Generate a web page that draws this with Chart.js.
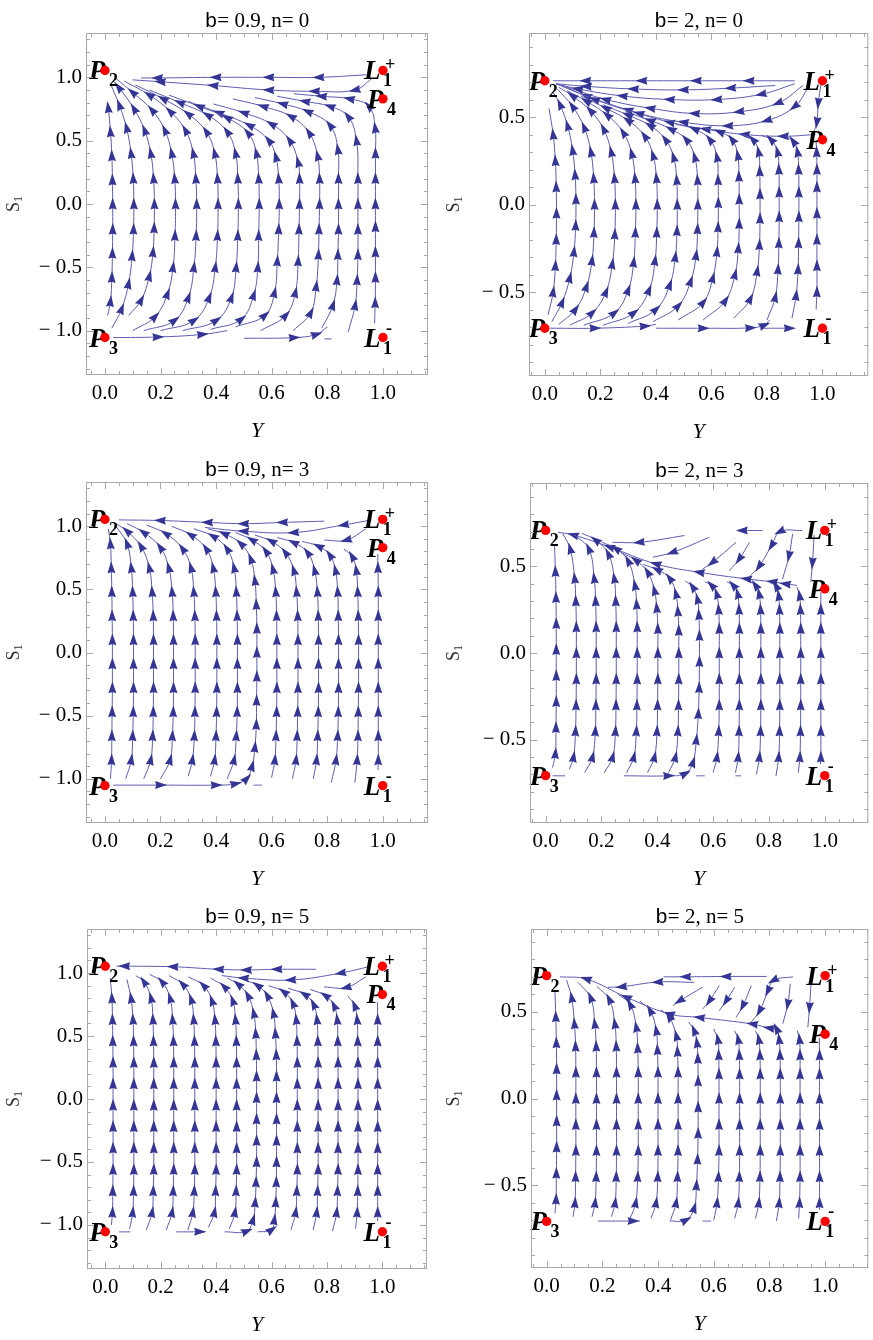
<!DOCTYPE html>
<html><head><meta charset="utf-8">
<script src="https://cdn.jsdelivr.net/npm/chart.js@4.4.0/dist/chart.umd.min.js"></script>
<style>
html,body{margin:0;padding:0;background:#fff;}
body{width:873px;height:1340px;position:relative;overflow:hidden;font-family:"Liberation Serif";}
.pn{position:absolute;}
canvas{display:block;}
.fp{position:absolute;left:-999px;top:0;}
</style></head><body>
<div class="fp"><span style="font-family:'Liberation Serif'">0.5 b= n</span><span style="font-family:'Liberation Serif';font-style:italic;font-weight:bold">P L</span><span style="font-family:'Liberation Serif';font-weight:bold">1234+-</span><span style="font-family:'Liberation Mono'">b</span><span style="font-family:'Liberation Serif';font-style:italic">Y</span></div>
<script>
// ---------- tick values / labels ----------
const xTickValues = [0, 0.2, 0.4, 0.6, 0.8, 1.0];
const yTickValuesWide = [-1, -0.5, 0, 0.5, 1];
const yTickValuesNarrow = [-0.5, 0, 0.5];
const xMinorTicks = [-0.05,0,0.05,0.1,0.15,0.2,0.25,0.3,0.35,0.4,0.45,0.5,0.55,0.6,0.65,0.7,0.75,0.8,0.85,0.9,0.95,1,1.05,1.1,1.15];
const yMinorWide = [-1.3,-1.2,-1.1,-1,-0.9,-0.8,-0.7,-0.6,-0.5,-0.4,-0.3,-0.2,-0.1,0,0.1,0.2,0.3,0.4,0.5,0.6,0.7,0.8,0.9,1,1.1,1.2,1.3];
const yMinorNarrow = [-0.9,-0.8,-0.7,-0.6,-0.5,-0.4,-0.3,-0.2,-0.1,0,0.1,0.2,0.3,0.4,0.5,0.6,0.7,0.8,0.9];

// ---------- panel titles ----------
const titleB = ['0.9','2','0.9','2','0.9','2'];
const titleN = ['0','0','3','3','5','5'];

// ---------- critical points ----------
const markLetters = ['P','P','L','P','L'];
const markSubs = ['2','3','1','4','1'];
const markSups = ['','','+','','-'];
const marksB09 = [[0,1.054],[0,-1.054],[1,1.054],[1,0.83],[1,-1.054]];
const marksB2 = [[0,0.707],[0,-0.707],[1,0.707],[1,0.37],[1,-0.707]];

// ---------- streamlines (Y, S1 pairs) ----------
const p1Lines = [
 [0.01,-0.88, 0.02,-0.77, 0.025,-0.58, 0.027,-0.39, 0.028,-0.2, 0.028,0, 0.027,0.19, 0.025,0.38, 0.02,0.57, 0.012,0.76, 0.008,0.8],
 [0.025,-0.98, 0.06,-0.83, 0.085,-0.63, 0.098,-0.41, 0.103,-0.2, 0.104,0, 0.102,0.2, 0.094,0.4, 0.078,0.6, 0.052,0.78, 0.02,0.95],
 [0.085,-0.88, 0.13,-0.76, 0.16,-0.57, 0.173,-0.38, 0.177,-0.19, 0.178,0, 0.175,0.2, 0.165,0.4, 0.143,0.58, 0.105,0.75, 0.05,0.92, 0.03,0.97],
 [0.1,-1.0, 0.18,-0.89, 0.225,-0.71, 0.245,-0.5, 0.252,-0.25, 0.254,0, 0.251,0.2, 0.24,0.4, 0.216,0.58, 0.17,0.74, 0.1,0.88, 0.04,0.99],
 [0.14,-1.0, 0.25,-0.92, 0.3,-0.74, 0.32,-0.5, 0.328,-0.25, 0.33,0, 0.327,0.2, 0.318,0.4, 0.29,0.58, 0.235,0.73, 0.16,0.86, 0.07,0.97],
 [0.2,-1.0, 0.32,-0.92, 0.375,-0.74, 0.397,-0.5, 0.405,-0.25, 0.407,0, 0.405,0.2, 0.395,0.4, 0.365,0.57, 0.3,0.71, 0.21,0.83, 0.11,0.94],
 [0.28,-1.0, 0.4,-0.92, 0.455,-0.74, 0.472,-0.5, 0.478,-0.25, 0.48,0, 0.478,0.2, 0.47,0.4, 0.44,0.57, 0.37,0.7, 0.27,0.8, 0.16,0.9],
 [0.38,-0.99, 0.49,-0.91, 0.535,-0.72, 0.55,-0.5, 0.553,-0.25, 0.555,0, 0.553,0.2, 0.545,0.4, 0.515,0.56, 0.44,0.68, 0.34,0.77, 0.23,0.86],
 [0.47,-0.97, 0.575,-0.88, 0.61,-0.7, 0.62,-0.45, 0.625,-0.2, 0.627,0, 0.625,0.2, 0.615,0.37, 0.59,0.5, 0.52,0.62, 0.41,0.72, 0.3,0.81],
 [0.56,-1.0, 0.65,-0.88, 0.685,-0.7, 0.695,-0.45, 0.698,-0.2, 0.7,0, 0.7,0.2, 0.695,0.33, 0.665,0.5, 0.6,0.63, 0.5,0.72, 0.39,0.79],
 [0.677,-1.0, 0.74,-0.86, 0.76,-0.65, 0.768,-0.4, 0.77,-0.2, 0.772,0, 0.772,0.2, 0.765,0.38, 0.735,0.56, 0.67,0.69, 0.57,0.77, 0.46,0.83],
 [0.78,-0.98, 0.82,-0.8, 0.835,-0.6, 0.838,-0.4, 0.84,-0.2, 0.84,0, 0.84,0.2, 0.838,0.43, 0.81,0.62, 0.73,0.73, 0.64,0.79, 0.54,0.84],
 [0.875,-1.01, 0.9,-0.8, 0.907,-0.6, 0.91,-0.4, 0.91,-0.2, 0.91,0, 0.91,0.2, 0.905,0.5, 0.875,0.69, 0.81,0.77, 0.72,0.81, 0.62,0.85],
 [0.97,-0.94, 0.972,-0.78, 0.973,-0.58, 0.973,-0.38, 0.973,-0.18, 0.973,0, 0.973,0.2, 0.973,0.4, 0.972,0.6, 0.95,0.77, 0.88,0.83, 0.78,0.85, 0.68,0.87],
 [0.03,-1.055, 0.19,-1.05, 0.35,-1.03, 0.44,-1.0],
 [0.5,-1.06, 0.68,-1.055, 0.76,-1.03, 0.8,-0.97],
 [0.79,-1.065, 0.815,-1.065],
 [0.94,1.02, 0.77,1.0, 0.59,1.0, 0.4,1.0, 0.19,0.995, 0.13,0.995],
 [0.96,0.99, 0.9,0.9, 0.755,0.89, 0.59,0.9, 0.39,0.935, 0.2,0.965, 0.1,0.98]
];

const p2Lines = [
 [0.012,-0.63, 0.03,-0.5, 0.038,-0.35, 0.041,-0.2, 0.042,-0.05, 0.041,0.1, 0.038,0.25, 0.03,0.4, 0.015,0.55],
 [0.025,-0.67, 0.062,-0.56, 0.09,-0.42, 0.105,-0.27, 0.111,-0.12, 0.112,0.03, 0.109,0.17, 0.1,0.31, 0.082,0.45, 0.055,0.57, 0.03,0.64],
 [0.05,-0.685, 0.11,-0.6, 0.15,-0.47, 0.17,-0.32, 0.177,-0.16, 0.179,0, 0.176,0.15, 0.166,0.3, 0.142,0.44, 0.1,0.56, 0.045,0.66],
 [0.09,-0.69, 0.17,-0.62, 0.22,-0.5, 0.243,-0.34, 0.252,-0.17, 0.254,0, 0.251,0.15, 0.239,0.3, 0.212,0.43, 0.165,0.535, 0.1,0.62, 0.05,0.67],
 [0.14,-0.69, 0.25,-0.62, 0.3,-0.49, 0.32,-0.33, 0.326,-0.16, 0.328,0, 0.325,0.15, 0.313,0.29, 0.283,0.41, 0.225,0.51, 0.15,0.59, 0.08,0.65],
 [0.21,-0.69, 0.32,-0.62, 0.375,-0.49, 0.397,-0.32, 0.403,-0.16, 0.405,0, 0.402,0.15, 0.39,0.28, 0.36,0.39, 0.3,0.48, 0.22,0.55, 0.13,0.62],
 [0.3,-0.68, 0.4,-0.6, 0.45,-0.46, 0.47,-0.3, 0.476,-0.15, 0.477,0, 0.475,0.14, 0.464,0.27, 0.435,0.37, 0.38,0.45, 0.3,0.51, 0.21,0.57],
 [0.39,-0.67, 0.48,-0.58, 0.525,-0.44, 0.545,-0.29, 0.55,-0.14, 0.551,0, 0.55,0.14, 0.54,0.27, 0.51,0.37, 0.455,0.43, 0.38,0.48, 0.29,0.53],
 [0.48,-0.66, 0.57,-0.56, 0.605,-0.42, 0.62,-0.27, 0.624,-0.13, 0.625,0.01, 0.624,0.14, 0.62,0.27, 0.595,0.37, 0.54,0.43, 0.47,0.46],
 [0.57,-0.66, 0.65,-0.55, 0.685,-0.4, 0.697,-0.25, 0.7,-0.11, 0.7,0.03, 0.699,0.16, 0.695,0.28, 0.675,0.37, 0.63,0.415, 0.57,0.44],
 [0.68,-0.65, 0.74,-0.54, 0.765,-0.38, 0.773,-0.23, 0.775,-0.08, 0.775,0.06, 0.774,0.19, 0.77,0.3, 0.75,0.37, 0.71,0.4],
 [0.8,-0.66, 0.83,-0.53, 0.84,-0.37, 0.843,-0.22, 0.844,-0.07, 0.844,0.07, 0.843,0.2, 0.838,0.3, 0.815,0.37, 0.78,0.395],
 [0.89,-0.65, 0.905,-0.52, 0.912,-0.37, 0.914,-0.22, 0.915,-0.07, 0.915,0.07, 0.914,0.2, 0.91,0.3, 0.895,0.36, 0.87,0.39],
 [0.977,-0.6, 0.98,-0.5, 0.98,-0.35, 0.98,-0.2, 0.98,-0.05, 0.98,0.1, 0.98,0.2, 0.979,0.3, 0.977,0.36],
 [0.9,0.707, 0.736,0.707, 0.546,0.707, 0.35,0.707, 0.148,0.707, 0.03,0.707],
 [0.83,0.68, 0.67,0.665, 0.5,0.655, 0.32,0.66, 0.15,0.675, 0.04,0.69],
 [0.9,0.69, 0.78,0.63, 0.62,0.6, 0.45,0.6, 0.28,0.62, 0.12,0.66, 0.04,0.69],
 [0.93,0.68, 0.84,0.58, 0.7,0.53, 0.54,0.52, 0.38,0.55, 0.22,0.6, 0.08,0.67],
 [0.95,0.67, 0.9,0.56, 0.8,0.48, 0.66,0.45, 0.5,0.47, 0.34,0.52, 0.18,0.6, 0.06,0.68],
 [0.995,0.69, 0.985,0.58, 0.98,0.47, 0.97,0.42],
 [0.975,0.4, 0.86,0.39, 0.72,0.4, 0.58,0.43, 0.45,0.47, 0.3,0.54, 0.15,0.62, 0.04,0.69],
 [0.02,-0.707, 0.18,-0.707, 0.36,-0.695, 0.4,-0.685],
 [0.4,-0.707, 0.57,-0.707, 0.74,-0.705, 0.79,-0.69, 0.81,-0.66],
 [0.78,-0.707, 0.88,-0.707, 0.9,-0.707]
];

const p3Lines = [
 [0.02,-1.0, 0.024,-0.85, 0.025,-0.66, 0.026,-0.47, 0.027,-0.28, 0.027,-0.09, 0.027,0.1, 0.026,0.29, 0.025,0.48, 0.023,0.67, 0.02,0.86, 0.012,0.98],
 [0.075,-1.0, 0.095,-0.85, 0.1,-0.66, 0.102,-0.47, 0.103,-0.28, 0.103,-0.09, 0.103,0.1, 0.102,0.29, 0.1,0.48, 0.095,0.67, 0.08,0.86, 0.04,1.0],
 [0.14,-1.0, 0.165,-0.85, 0.172,-0.66, 0.174,-0.47, 0.175,-0.28, 0.175,-0.09, 0.175,0.1, 0.174,0.29, 0.17,0.48, 0.16,0.67, 0.13,0.84, 0.08,0.96, 0.04,1.02],
 [0.2,-1.0, 0.235,-0.85, 0.243,-0.66, 0.246,-0.47, 0.247,-0.28, 0.247,-0.09, 0.247,0.1, 0.246,0.29, 0.242,0.48, 0.23,0.67, 0.2,0.83, 0.14,0.95, 0.08,1.02],
 [0.3,-0.98, 0.315,-0.85, 0.322,-0.66, 0.324,-0.47, 0.325,-0.28, 0.325,-0.09, 0.325,0.1, 0.324,0.29, 0.32,0.48, 0.31,0.67, 0.28,0.82, 0.22,0.94, 0.15,1.01],
 [0.38,-0.98, 0.395,-0.85, 0.4,-0.66, 0.402,-0.47, 0.403,-0.28, 0.403,-0.09, 0.403,0.1, 0.402,0.29, 0.399,0.48, 0.39,0.67, 0.365,0.82, 0.31,0.93, 0.24,1.0],
 [0.44,-1.0, 0.465,-0.85, 0.473,-0.66, 0.476,-0.47, 0.477,-0.28, 0.477,-0.09, 0.477,0.1, 0.476,0.29, 0.473,0.48, 0.465,0.67, 0.44,0.82, 0.39,0.92, 0.32,0.98],
 [0.03,-1.05, 0.2,-1.05, 0.4,-1.05, 0.47,-1.04, 0.51,-1.0, 0.53,-0.9, 0.54,-0.75, 0.545,-0.57, 0.546,-0.38, 0.547,-0.19, 0.547,0, 0.547,0.19, 0.545,0.38, 0.54,0.57, 0.525,0.74, 0.49,0.86, 0.43,0.94, 0.37,0.98],
 [0.6,-0.99, 0.612,-0.85, 0.616,-0.66, 0.618,-0.47, 0.619,-0.28, 0.619,-0.09, 0.619,0.1, 0.618,0.29, 0.615,0.48, 0.605,0.66, 0.58,0.8, 0.53,0.89, 0.47,0.95],
 [0.675,-1.0, 0.688,-0.85, 0.692,-0.66, 0.694,-0.47, 0.695,-0.28, 0.695,-0.09, 0.695,0.1, 0.694,0.29, 0.69,0.48, 0.68,0.65, 0.65,0.79, 0.6,0.88, 0.54,0.93],
 [0.75,-1.0, 0.762,-0.85, 0.766,-0.66, 0.768,-0.47, 0.769,-0.28, 0.769,-0.09, 0.769,0.1, 0.768,0.29, 0.765,0.48, 0.755,0.65, 0.73,0.79, 0.68,0.87, 0.62,0.91],
 [0.815,-1.03, 0.832,-0.85, 0.838,-0.66, 0.84,-0.47, 0.841,-0.28, 0.841,-0.09, 0.841,0.1, 0.84,0.29, 0.838,0.48, 0.83,0.65, 0.81,0.77, 0.77,0.84, 0.71,0.88],
 [0.9,-1.03, 0.908,-0.85, 0.911,-0.66, 0.912,-0.47, 0.913,-0.28, 0.913,-0.09, 0.913,0.1, 0.912,0.29, 0.91,0.48, 0.905,0.65, 0.89,0.76, 0.86,0.82],
 [0.983,-0.93, 0.984,-0.85, 0.984,-0.66, 0.984,-0.47, 0.984,-0.28, 0.984,-0.09, 0.984,0.1, 0.984,0.29, 0.984,0.48, 0.983,0.67, 0.982,0.78],
 [0.535,-1.05, 0.565,-1.05],
 [0.79,1.04, 0.64,1.03, 0.5,1.02, 0.37,1.03, 0.2,1.045, 0.05,1.05],
 [0.96,1.05, 0.86,1.01, 0.68,0.95, 0.5,0.96, 0.36,0.99],
 [0.94,0.98, 0.87,0.89, 0.79,0.89]
];

const p4Lines = [
 [0.025,-0.66, 0.035,-0.58, 0.037,-0.43, 0.038,-0.28, 0.038,-0.13, 0.038,0.02, 0.038,0.17, 0.037,0.32, 0.035,0.47, 0.032,0.62],
 [0.085,-0.67, 0.1,-0.6, 0.107,-0.45, 0.109,-0.3, 0.11,-0.15, 0.11,0, 0.11,0.15, 0.108,0.3, 0.104,0.43, 0.088,0.6, 0.062,0.687],
 [0.14,-0.69, 0.168,-0.6, 0.178,-0.45, 0.18,-0.3, 0.181,-0.15, 0.181,0, 0.181,0.15, 0.179,0.3, 0.174,0.43, 0.155,0.6, 0.105,0.68],
 [0.21,-0.69, 0.24,-0.6, 0.25,-0.45, 0.252,-0.3, 0.253,-0.15, 0.253,0, 0.253,0.15, 0.251,0.3, 0.246,0.43, 0.225,0.57, 0.18,0.65, 0.13,0.69],
 [0.29,-0.69, 0.316,-0.6, 0.325,-0.45, 0.327,-0.3, 0.328,-0.15, 0.328,0, 0.328,0.15, 0.326,0.28, 0.32,0.39, 0.296,0.53, 0.253,0.6, 0.2,0.64],
 [0.365,-0.69, 0.39,-0.6, 0.399,-0.45, 0.401,-0.3, 0.402,-0.15, 0.402,0, 0.402,0.14, 0.398,0.26, 0.39,0.36, 0.366,0.465, 0.324,0.533, 0.27,0.58],
 [0.44,-0.69, 0.465,-0.6, 0.474,-0.45, 0.476,-0.3, 0.477,-0.15, 0.477,0, 0.477,0.13, 0.474,0.24, 0.467,0.34, 0.445,0.43, 0.4,0.48, 0.35,0.51],
 [0.28,-0.708, 0.44,-0.708, 0.5,-0.695, 0.528,-0.63, 0.54,-0.5, 0.547,-0.35, 0.55,-0.2, 0.551,-0.05, 0.551,0.1, 0.549,0.22, 0.544,0.31, 0.527,0.38, 0.5,0.415],
 [0.6,-0.69, 0.614,-0.6, 0.62,-0.45, 0.622,-0.3, 0.622,-0.15, 0.622,0, 0.622,0.14, 0.62,0.25, 0.613,0.34, 0.595,0.39, 0.57,0.41],
 [0.68,-0.69, 0.69,-0.6, 0.693,-0.45, 0.694,-0.3, 0.694,-0.15, 0.694,0, 0.694,0.14, 0.693,0.25, 0.688,0.34, 0.672,0.39, 0.65,0.41],
 [0.755,-0.7, 0.766,-0.6, 0.77,-0.45, 0.771,-0.3, 0.771,-0.15, 0.771,0, 0.771,0.14, 0.77,0.25, 0.765,0.34, 0.752,0.39, 0.735,0.41],
 [0.825,-0.71, 0.835,-0.6, 0.838,-0.45, 0.839,-0.3, 0.839,-0.15, 0.839,0, 0.839,0.14, 0.838,0.25, 0.835,0.33, 0.826,0.385, 0.81,0.405],
 [0.905,-0.69, 0.911,-0.6, 0.913,-0.45, 0.914,-0.3, 0.914,-0.15, 0.914,0, 0.914,0.14, 0.913,0.25, 0.91,0.33, 0.9,0.38],
 [0.985,-0.64, 0.986,-0.6, 0.986,-0.45, 0.986,-0.3, 0.986,-0.15, 0.986,0, 0.986,0.14, 0.986,0.25, 0.986,0.35],
 [0.025,-0.708, 0.07,-0.708],
 [0.54,-0.708, 0.57,-0.708],
 [0.68,-0.708, 0.7,-0.708],
 [0.9,0.39, 0.86,0.398, 0.813,0.41, 0.72,0.427, 0.551,0.465, 0.396,0.513, 0.229,0.611, 0.1,0.68, 0.044,0.696],
 [0.92,0.706, 0.84,0.7, 0.81,0.62, 0.765,0.5, 0.73,0.44],
 [0.885,0.687, 0.872,0.56, 0.849,0.427],
 [0.962,0.68, 0.956,0.52, 0.95,0.41],
 [0.777,0.706, 0.705,0.706, 0.69,0.706],
 [0.586,0.667, 0.455,0.58, 0.384,0.552],
 [0.497,0.677, 0.336,0.638, 0.24,0.638],
 [0.682,0.638, 0.598,0.523, 0.563,0.485],
 [0.73,0.638, 0.694,0.542, 0.658,0.475]
];

const p5Lines = [
 [0.022,-1.0, 0.026,-0.9, 0.027,-0.73, 0.028,-0.56, 0.028,-0.39, 0.028,-0.22, 0.028,-0.05, 0.028,0.12, 0.028,0.29, 0.027,0.46, 0.026,0.63, 0.024,0.8, 0.018,0.96],
 [0.088,-1.03, 0.099,-0.9, 0.102,-0.73, 0.103,-0.56, 0.103,-0.39, 0.103,-0.22, 0.103,-0.05, 0.103,0.12, 0.103,0.29, 0.102,0.46, 0.1,0.63, 0.093,0.8, 0.078,0.95],
 [0.148,-1.04, 0.169,-0.9, 0.173,-0.73, 0.175,-0.56, 0.175,-0.39, 0.175,-0.22, 0.175,-0.05, 0.175,0.12, 0.175,0.29, 0.174,0.46, 0.172,0.63, 0.165,0.8, 0.14,0.93, 0.11,0.98],
 [0.22,-1.04, 0.241,-0.9, 0.245,-0.73, 0.247,-0.56, 0.247,-0.39, 0.247,-0.22, 0.247,-0.05, 0.247,0.12, 0.247,0.29, 0.246,0.46, 0.243,0.63, 0.234,0.8, 0.205,0.93, 0.16,0.99],
 [0.298,-1.04, 0.316,-0.9, 0.321,-0.73, 0.323,-0.56, 0.323,-0.39, 0.323,-0.22, 0.323,-0.05, 0.323,0.12, 0.323,0.29, 0.322,0.46, 0.319,0.63, 0.31,0.79, 0.28,0.91, 0.23,0.98],
 [0.372,-1.02, 0.394,-0.9, 0.398,-0.73, 0.4,-0.56, 0.4,-0.39, 0.4,-0.22, 0.4,-0.05, 0.4,0.12, 0.4,0.29, 0.399,0.46, 0.396,0.63, 0.385,0.78, 0.355,0.9, 0.3,0.97],
 [0.448,-1.03, 0.468,-0.9, 0.472,-0.73, 0.474,-0.56, 0.474,-0.39, 0.474,-0.22, 0.474,-0.05, 0.474,0.12, 0.474,0.29, 0.473,0.46, 0.47,0.63, 0.46,0.78, 0.43,0.89, 0.38,0.96],
 [0.43,-1.055, 0.51,-1.05, 0.533,-0.96, 0.541,-0.82, 0.544,-0.66, 0.546,-0.5, 0.546,-0.33, 0.546,-0.16, 0.546,0.01, 0.546,0.18, 0.545,0.35, 0.543,0.52, 0.536,0.68, 0.515,0.82, 0.48,0.91, 0.44,0.96],
 [0.55,-1.055, 0.6,-1.04, 0.61,-0.96, 0.615,-0.82, 0.617,-0.66, 0.618,-0.5, 0.618,-0.33, 0.618,-0.16, 0.618,0.01, 0.618,0.18, 0.617,0.35, 0.614,0.52, 0.607,0.68, 0.585,0.82, 0.55,0.9, 0.51,0.94],
 [0.67,-1.04, 0.687,-0.9, 0.691,-0.73, 0.693,-0.56, 0.693,-0.39, 0.693,-0.22, 0.693,-0.05, 0.693,0.12, 0.693,0.29, 0.692,0.46, 0.689,0.63, 0.677,0.76, 0.645,0.85, 0.59,0.9],
 [0.75,-1.04, 0.763,-0.9, 0.766,-0.73, 0.768,-0.56, 0.768,-0.39, 0.768,-0.22, 0.768,-0.05, 0.768,0.12, 0.768,0.29, 0.767,0.46, 0.764,0.63, 0.752,0.75, 0.72,0.83, 0.66,0.88],
 [0.82,-1.05, 0.835,-0.9, 0.838,-0.73, 0.84,-0.56, 0.84,-0.39, 0.84,-0.22, 0.84,-0.05, 0.84,0.12, 0.84,0.29, 0.839,0.46, 0.837,0.63, 0.826,0.74, 0.795,0.82, 0.74,0.87],
 [0.903,-1.03, 0.909,-0.9, 0.911,-0.73, 0.912,-0.56, 0.912,-0.39, 0.912,-0.22, 0.912,-0.05, 0.912,0.12, 0.912,0.29, 0.911,0.46, 0.909,0.63, 0.9,0.74, 0.875,0.82],
 [0.983,-0.97, 0.983,-0.9, 0.983,-0.73, 0.983,-0.56, 0.983,-0.39, 0.983,-0.22, 0.983,-0.05, 0.983,0.12, 0.983,0.29, 0.983,0.46, 0.983,0.63, 0.982,0.77],
 [0.05,-1.055, 0.09,-1.055],
 [0.256,-1.055, 0.34,-1.055, 0.36,-1.055],
 [0.76,1.03, 0.62,1.03, 0.51,1.025, 0.41,1.03, 0.245,1.05, 0.07,1.055, 0.04,1.055],
 [0.95,1.05, 0.85,1.0, 0.67,0.945, 0.5,0.96, 0.42,0.98],
 [0.94,0.97, 0.87,0.885, 0.79,0.89]
];

const p6Lines = [
 [0.03,-0.66, 0.034,-0.58, 0.035,-0.43, 0.036,-0.28, 0.036,-0.13, 0.036,0.02, 0.036,0.17, 0.035,0.32, 0.033,0.47, 0.03,0.62],
 [0.095,-0.68, 0.102,-0.6, 0.104,-0.45, 0.105,-0.3, 0.105,-0.15, 0.105,0, 0.105,0.15, 0.104,0.3, 0.1,0.43, 0.09,0.58, 0.072,0.68],
 [0.163,-0.68, 0.174,-0.6, 0.178,-0.45, 0.179,-0.3, 0.179,-0.15, 0.179,0, 0.179,0.15, 0.178,0.3, 0.173,0.43, 0.158,0.58, 0.113,0.668],
 [0.233,-0.68, 0.246,-0.6, 0.25,-0.45, 0.251,-0.3, 0.251,-0.15, 0.251,0, 0.251,0.15, 0.25,0.3, 0.245,0.43, 0.225,0.57, 0.18,0.645],
 [0.3,-0.69, 0.32,-0.6, 0.327,-0.45, 0.329,-0.3, 0.329,-0.15, 0.329,0, 0.329,0.15, 0.327,0.29, 0.322,0.41, 0.3,0.54, 0.257,0.6],
 [0.375,-0.69, 0.393,-0.6, 0.399,-0.45, 0.4,-0.3, 0.4,-0.15, 0.4,0, 0.4,0.15, 0.398,0.28, 0.394,0.39, 0.372,0.505, 0.335,0.56],
 [0.445,-0.7, 0.465,-0.6, 0.47,-0.45, 0.472,-0.3, 0.472,-0.15, 0.472,0, 0.472,0.15, 0.47,0.27, 0.466,0.36, 0.44,0.47, 0.41,0.51],
 [0.442,-0.705, 0.5,-0.7, 0.53,-0.63, 0.538,-0.5, 0.542,-0.35, 0.544,-0.2, 0.544,-0.05, 0.544,0.1, 0.543,0.23, 0.54,0.32, 0.53,0.39, 0.51,0.44],
 [0.6,-0.7, 0.612,-0.6, 0.617,-0.45, 0.619,-0.3, 0.619,-0.15, 0.619,0, 0.619,0.14, 0.618,0.25, 0.615,0.34, 0.6,0.4],
 [0.675,-0.69, 0.688,-0.6, 0.692,-0.45, 0.693,-0.3, 0.693,-0.15, 0.693,0, 0.693,0.14, 0.692,0.25, 0.688,0.34, 0.675,0.39],
 [0.75,-0.69, 0.762,-0.6, 0.766,-0.45, 0.767,-0.3, 0.767,-0.15, 0.767,0, 0.767,0.14, 0.766,0.25, 0.762,0.34, 0.75,0.39],
 [0.825,-0.705, 0.835,-0.6, 0.838,-0.45, 0.839,-0.3, 0.839,-0.15, 0.839,0, 0.839,0.14, 0.838,0.25, 0.835,0.34, 0.826,0.4, 0.81,0.42],
 [0.905,-0.69, 0.908,-0.6, 0.91,-0.45, 0.91,-0.3, 0.91,-0.15, 0.91,0, 0.91,0.14, 0.91,0.25, 0.908,0.34, 0.9,0.39],
 [0.98,-0.64, 0.98,-0.6, 0.98,-0.45, 0.98,-0.3, 0.98,-0.15, 0.98,0, 0.98,0.14, 0.98,0.25, 0.979,0.35],
 [0.185,-0.705, 0.31,-0.705, 0.335,-0.705],
 [0.56,-0.705, 0.59,-0.705],
 [0.836,0.4, 0.8,0.405, 0.74,0.428, 0.55,0.466, 0.442,0.486, 0.287,0.582, 0.143,0.687, 0.048,0.7],
 [0.79,0.702, 0.645,0.702, 0.5,0.7, 0.42,0.7],
 [0.53,0.668, 0.4,0.67, 0.27,0.643, 0.22,0.64],
 [0.885,0.7, 0.815,0.68, 0.795,0.62, 0.765,0.505, 0.73,0.43],
 [0.875,0.66, 0.866,0.543, 0.848,0.43],
 [0.95,0.68, 0.944,0.524, 0.938,0.41],
 [0.735,0.65, 0.705,0.534, 0.68,0.466],
 [0.675,0.64, 0.645,0.562, 0.62,0.505],
 [0.62,0.65, 0.585,0.562, 0.56,0.514],
 [0.56,0.64, 0.478,0.562, 0.454,0.534]
];

// ---------- layout (pixel geometry, styles only) ----------
const LINE_COLOR = '#5c5cb0';
const ARROW_COLOR = '#353595';
const FRAME_COLOR = '#a8a8a8';
const SERIF = '"Liberation Serif", "Times New Roman", serif';
const MONO = '"Liberation Mono", "Courier New", monospace';
const panels = [
 {lines:p1Lines, marks:marksB09, yTicks:yTickValuesWide, yMinor:yMinorWide, left:0,   top:0,   w:440, h:445, L:86, T:33, R:12, B:70, xr:[-0.068,1.162], yr:[-1.35,1.35]},
 {lines:p2Lines, marks:marksB2,  yTicks:yTickValuesNarrow, yMinor:yMinorNarrow, left:440, top:0,   w:433, h:445, L:89, T:33, R:1,  B:69, xr:[-0.057,1.165], yr:[-0.98,0.98]},
 {lines:p3Lines, marks:marksB09, yTicks:yTickValuesWide, yMinor:yMinorWide, left:0,   top:445, w:440, h:445, L:86, T:37, R:12, B:67, xr:[-0.068,1.163], yr:[-1.35,1.35]},
 {lines:p4Lines, marks:marksB2,  yTicks:yTickValuesNarrow, yMinor:yMinorNarrow, left:440, top:445, w:433, h:445, L:90, T:38, R:4,  B:67, xr:[-0.056,1.156], yr:[-0.98,0.98]},
 {lines:p5Lines, marks:marksB09, yTicks:yTickValuesWide, yMinor:yMinorWide, left:0,   top:890, w:440, h:450, L:87, T:39, R:13, B:71, xr:[-0.066,1.161], yr:[-1.35,1.35]},
 {lines:p6Lines, marks:marksB2,  yTicks:yTickValuesNarrow, yMinor:yMinorNarrow, left:440, top:890, w:433, h:450, L:91, T:39, R:4,  B:72, xr:[-0.056,1.155], yr:[-0.975,0.975]}
];

function fmtTick(v){ const s = Math.abs(v).toFixed(1); return v < -1e-9 ? '\u2212 ' + s : s; }
function isMult(v, step){ const q = v/step; return Math.abs(q - Math.round(q)) < 1e-6; }
function toPts(flat){ const a=[]; for(let i=0;i<flat.length;i+=2) a.push({x:flat[i], y:flat[i+1]}); return a; }

function drawArrows(ctx, els){
  ctx.save(); ctx.fillStyle = ARROW_COLOR;
  for (let k=1; k<els.length-1; k++){
    const a = els[k-1], b = els[k], c = els[k+1];
    let dx = c.x - a.x, dy = c.y - a.y; const L = Math.hypot(dx,dy); if (!L) continue;
    dx/=L; dy/=L;
    const len = 12, hw = 4.0;
    const tx = b.x + dx*len*0.55, ty = b.y + dy*len*0.55;
    const bx = b.x - dx*len*0.45, by = b.y - dy*len*0.45;
    ctx.beginPath(); ctx.moveTo(tx,ty);
    ctx.lineTo(bx - dy*hw, by + dx*hw);
    ctx.lineTo(b.x - dx*len*0.35, b.y - dy*len*0.35);
    ctx.lineTo(bx + dy*hw, by - dx*hw);
    ctx.closePath(); ctx.fill();
  }
  ctx.restore();
}

function drawMarkLabels(chart, P){
  const ctx = chart.ctx, xs = chart.scales.x, ys = chart.scales.y;
  ctx.save(); ctx.fillStyle = '#000'; ctx.textBaseline = 'alphabetic'; ctx.textAlign = 'left';
  P.marks.forEach((m,i)=>{
    const px = xs.getPixelForValue(m[0]), py = ys.getPixelForValue(m[1]);
    const letter = markLetters[i];
    ctx.font = 'italic bold 27px ' + SERIF;
    ctx.fillText(letter, px + (letter === 'L' ? -19 : -16), py + 9);
    ctx.font = 'bold 18px ' + SERIF;
    ctx.fillText(markSubs[i], px + (letter === 'L' ? 0 : 4), py + 16);
    if (markSups[i]){
      ctx.font = 'bold 18px ' + SERIF;
      if (markSups[i] === '+') ctx.fillText('+', px + 2, py);
      else ctx.fillText('-', px + 3, py - 4);
    }
  });
  ctx.restore();
}

function drawDecor(chart, P, idx){
  const ctx = chart.ctx, xs = chart.scales.x, ys = chart.scales.y;
  const {left, right, top, bottom} = chart.chartArea;
  ctx.save();
  ctx.strokeStyle = FRAME_COLOR; ctx.lineWidth = 1;
  ctx.strokeRect(left+0.5, top+0.5, right-left-1, bottom-top-1);
  ctx.beginPath();
  xMinorTicks.forEach(v=>{
    const x = Math.round(xs.getPixelForValue(v)) + 0.5;
    if (x < left || x > right) return;
    const len = isMult(v,0.2) ? 7 : 4;
    ctx.moveTo(x, bottom); ctx.lineTo(x, bottom-len);
    ctx.moveTo(x, top); ctx.lineTo(x, top+len);
  });
  P.yMinor.forEach(v=>{
    const y = Math.round(ys.getPixelForValue(v)) + 0.5;
    if (y < top || y > bottom) return;
    const len = isMult(v,0.5) ? 7 : 4;
    ctx.moveTo(left, y); ctx.lineTo(left+len, y);
    ctx.moveTo(right, y); ctx.lineTo(right-len, y);
  });
  ctx.stroke();
  // title
  ctx.fillStyle = '#000'; ctx.textBaseline = 'alphabetic'; ctx.textAlign = 'left';
  const t1 = 'b', t2 = '= ' + titleB[idx] + ', n= ' + titleN[idx];
  ctx.font = '21px ' + MONO; const w1 = ctx.measureText(t1).width;
  ctx.font = '21px ' + SERIF; const w2 = ctx.measureText(t2).width;
  const cx = (left+right)/2, tx0 = cx - (w1+w2)/2, ty = top - 6;
  ctx.font = '21px ' + MONO; ctx.fillText(t1, tx0, ty);
  ctx.font = '21px ' + SERIF; ctx.fillText(t2, tx0 + w1, ty);
  // x axis label
  ctx.font = 'italic 22px ' + SERIF; ctx.textAlign = 'center';
  ctx.fillText('Y', cx, bottom + 62);
  // y axis label (rotated)
  ctx.translate(19, (top+bottom)/2); ctx.rotate(-Math.PI/2);
  ctx.fillStyle = '#333';
  ctx.font = '18px ' + SERIF; ctx.textAlign = 'left';
  const ws = ctx.measureText('S').width;
  ctx.fillText('S', -ws/2 - 3, 0);
  ctx.font = '12px ' + SERIF;
  ctx.fillText('1', ws/2 - 3, 3);
  ctx.restore();
}

const charts = [];
panels.forEach((P, idx)=>{
  const div = document.createElement('div');
  div.className = 'pn';
  div.style.left = P.left + 'px'; div.style.top = P.top + 'px';
  const cv = document.createElement('canvas');
  cv.width = P.w; cv.height = P.h; cv.style.width = P.w + 'px'; cv.style.height = P.h + 'px';
  div.appendChild(cv); document.body.appendChild(div);

  const datasets = P.lines.map(fl => ({
    data: toPts(fl), stream: true, showLine: true, borderColor: LINE_COLOR, borderWidth: 1,
    pointRadius: 0, pointHoverRadius: 0, tension: 0.4, fill: false, order: 1
  }));
  datasets.push({
    data: P.marks.map(m => ({x:m[0], y:m[1]})), showLine: false, pointRadius: 4.7,
    pointBackgroundColor: '#ff0000', pointBorderColor: '#ff0000', pointBorderWidth: 0, order: 0
  });

  charts.push(new Chart(cv, {
    type: 'scatter',
    data: { datasets },
    options: {
      responsive: false, animation: false, events: [], devicePixelRatio: 1,
      layout: { padding: { left: 0, top: P.T, right: P.R, bottom: 0 } },
      plugins: { legend: {display:false}, tooltip: {enabled:false}, title: {display:false} },
      scales: {
        x: {
          type: 'linear', min: P.xr[0], max: P.xr[1],
          afterBuildTicks: s => { s.ticks = xTickValues.map(v => ({value: v})); },
          afterFit: s => { s.height = P.B; },
          ticks: { callback: v => fmtTick(v), font: {family: SERIF, size: 21}, color: '#000', padding: 6, maxRotation: 0, autoSkip: false },
          grid: { display: false, drawTicks: false }, border: { display: false }
        },
        y: {
          type: 'linear', min: P.yr[0], max: P.yr[1],
          afterBuildTicks: s => { s.ticks = P.yTicks.map(v => ({value: v})); },
          afterFit: s => { s.width = P.L; },
          ticks: { callback: v => fmtTick(v), font: {family: SERIF, size: 21}, color: '#000', padding: 4, autoSkip: false },
          grid: { display: false, drawTicks: false }, border: { display: false }
        }
      }
    },
    plugins: [{
      id: 'streamDecor',
      afterDatasetDraw(chart, args){
        const ds = chart.data.datasets[args.index];
        if (ds.stream) drawArrows(chart.ctx, args.meta.data);
        if (args.index === 0) drawMarkLabels(chart, P);
      },
      afterDraw(chart){ drawDecor(chart, P, idx); }
    }]
  }));
});

if (document.fonts && document.fonts.load) {
  Promise.all([
    document.fonts.load('21px "Liberation Serif"'),
    document.fonts.load('italic bold 27px "Liberation Serif"'),
    document.fonts.load('bold 18px "Liberation Serif"'),
    document.fonts.load('italic 22px "Liberation Serif"'),
    document.fonts.load('21px "Liberation Mono"')
  ]).then(() => charts.forEach(c => c.update('none'))).catch(()=>{});
}
</script>
</body></html>
